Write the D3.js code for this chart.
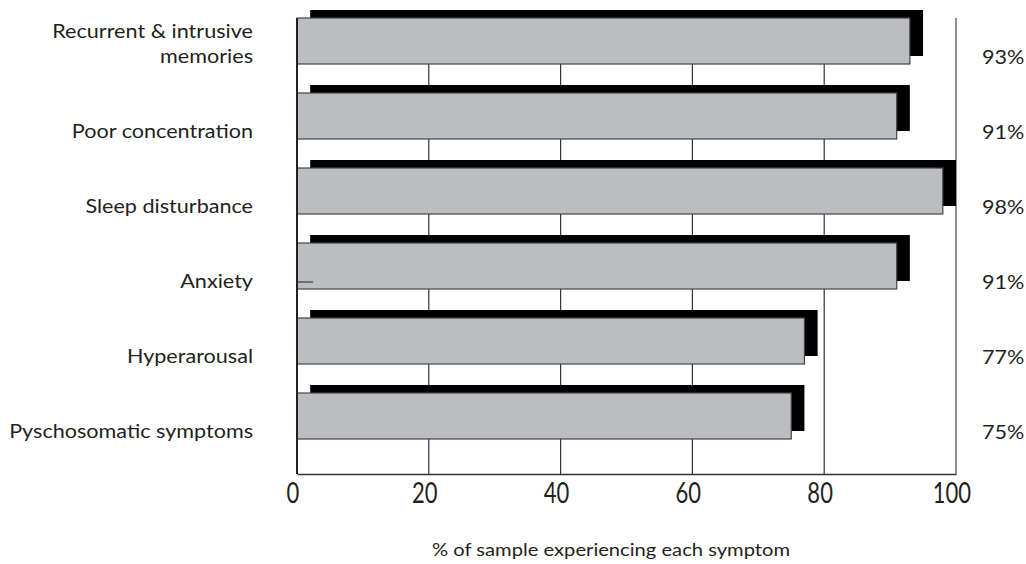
<!DOCTYPE html>
<html>
<head>
<meta charset="utf-8">
<script src="https://cdn.jsdelivr.net/npm/d3@7"></script>
<style>
  html, body { margin: 0; padding: 0; background: #ffffff; }
  svg { display: block; }
  text { font-family: Lato, "Open Sans", sans-serif; fill: #231f20; }
</style>
</head>
<body>
<svg id="chart" width="1026" height="564"></svg>
<script>
// Symptom categories, top to bottom
const categories = [
  ["Recurrent & intrusive", "memories"],
  ["Poor concentration"],
  ["Sleep disturbance"],
  ["Anxiety"],
  ["Hyperarousal"],
  ["Pyschosomatic symptoms"]
];
// Share of the sample reporting each symptom (%)
const values = [93, 91, 98, 91, 77, 75];
const valueLabels = ["93%", "91%", "98%", "91%", "77%", "75%"];
const tickValues = [0, 20, 40, 60, 80, 100];
const axisTitle = "% of sample experiencing each symptom";

const svg = d3.select("#chart");
const plotLeft = 297, plotRight = 956, plotTop = 18, plotBottom = 474;

const x = d3.scaleLinear().domain([0, 100]).range([plotLeft, plotRight]);
const y = d3.scaleBand()
  .domain(d3.range(categories.length))
  .range([plotTop, plotTop + 75 * categories.length])
  .paddingInner(0);
const barH = 46;
const shadowDx = x(2) - x(0);
const shadowDy = -8;
const wide = "scale(1.08,1)";

// vertical gridlines
svg.append("g")
  .selectAll("line")
  .data(tickValues.slice(1, -1))
  .join("line")
  .attr("x1", d => x(d)).attr("x2", d => x(d))
  .attr("y1", plotTop).attr("y2", plotBottom)
  .attr("stroke", "#333").attr("stroke-width", 1.2);

// right frame edge
svg.append("line")
  .attr("x1", x(100)).attr("x2", x(100))
  .attr("y1", plotTop).attr("y2", plotBottom)
  .attr("stroke", "#444").attr("stroke-width", 1.2);

// drop shadows
svg.append("g")
  .selectAll("rect")
  .data(values)
  .join("rect")
  .attr("x", x(0) + shadowDx)
  .attr("y", (d, i) => y(i) + shadowDy)
  .attr("width", d => x(d) - x(0))
  .attr("height", barH)
  .attr("fill", "#000");

// bars
svg.append("g")
  .selectAll("rect")
  .data(values)
  .join("rect")
  .attr("x", x(0))
  .attr("y", (d, i) => y(i))
  .attr("width", d => x(d) - x(0))
  .attr("height", barH)
  .attr("fill", "#bcbdc1")
  .attr("stroke", "#444")
  .attr("stroke-width", 1.2);

// x axis
const xAxis = d3.axisBottom(x).tickValues(tickValues).tickSize(0).tickPadding(8);
const gx = svg.append("g").attr("transform", `translate(0,${plotBottom})`).call(xAxis);
gx.select(".domain").attr("stroke", "#333").attr("stroke-width", 1.5);
gx.selectAll("text")
  .attr("font-size", 29)
  .attr("fill", "#231f20")
  .attr("x", -6)
  .attr("dy", "0.71em")
  .attr("transform", "scale(0.76,1)")
  .style("font-family", "Lato, sans-serif");

// left axis line
svg.append("line")
  .attr("x1", plotLeft).attr("x2", plotLeft)
  .attr("y1", plotTop).attr("y2", plotBottom)
  .attr("stroke", "#222").attr("stroke-width", 2);

// stray tick beside Anxiety
svg.append("line")
  .attr("x1", plotLeft).attr("x2", plotLeft + 16)
  .attr("y1", y(3) + 39).attr("y2", y(3) + 39)
  .attr("stroke", "#222").attr("stroke-width", 1);

// category labels (right-aligned at x = 253, widened slightly)
const labelX = 253;
const cat = svg.append("g")
  .attr("transform", `translate(${labelX},0) ${wide}`)
  .selectAll("text")
  .data(categories)
  .join("text")
  .attr("text-anchor", "end")
  .attr("font-size", 20)
  .attr("y", (d, i) => y(i) + barH - (d.length - 1) * 25 - 1);
cat.selectAll("tspan")
  .data(d => d)
  .join("tspan")
  .attr("x", 0)
  .attr("dy", (d, i) => i === 0 ? 0 : 25)
  .text(d => d);

// value labels
svg.append("g")
  .attr("transform", `translate(982,0) ${wide}`)
  .selectAll("text")
  .data(valueLabels)
  .join("text")
  .attr("x", 0)
  .attr("y", (d, i) => y(i) + barH)
  .attr("font-size", 20)
  .text(d => d);

// axis title
svg.append("g")
  .attr("transform", "translate(611,0) scale(1.12,1)")
  .append("text")
  .attr("x", 0)
  .attr("y", 556)
  .attr("text-anchor", "middle")
  .attr("font-size", 18)
  .text(axisTitle);
</script>
</body>
</html>
